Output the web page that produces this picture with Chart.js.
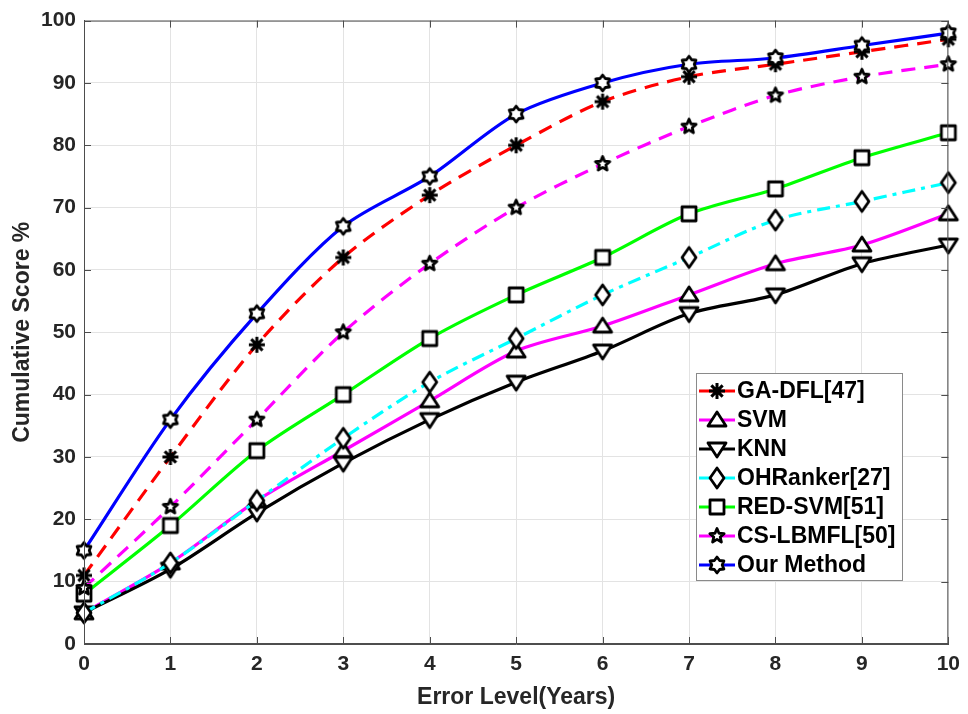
<!DOCTYPE html>
<html>
<head>
<meta charset="utf-8">
<script src="https://cdn.jsdelivr.net/npm/chart.js@4.4.1/dist/chart.umd.min.js"></script>
<style>
  html, body { margin: 0; padding: 0; background: #fff; }
</style>
</head>
<body>
<canvas id="scoreChart" width="968" height="714"></canvas>
<script>
// error levels (x) and cumulative scores (%) per method
const errorLevels = [0, 1, 2, 3, 4, 5, 6, 7, 8, 9, 10];
const gaDfl     = [11, 30, 48, 62, 72, 80, 87, 91, 93, 95, 97];
const svm       = [5, 13, 23, 31, 39, 47, 51, 56, 61, 64, 69];
const knn       = [5, 12, 21, 29, 36, 42, 47, 53, 56, 61, 64];
const ohRanker  = [5, 13, 23, 33, 42, 49, 56, 62, 68, 71, 74];
const redSvm    = [8, 19, 31, 40, 49, 56, 62, 69, 73, 78, 82];
const csLbmfl   = [9, 22, 36, 50, 61, 70, 77, 83, 88, 91, 93];
const ourMethod = [15, 36, 53, 67, 75, 85, 90, 93, 94, 96, 98];
const methodNames = ['GA-DFL[47]', 'SVM', 'KNN', 'OHRanker[27]', 'RED-SVM[51]', 'CS-LBMFL[50]', 'Our Method'];

const FONT = "'Liberation Sans', Arial, sans-serif";
const TEXT = '#262626';
const AXIS = '#4d4d4d';

function starPath(g, n, outer, inner) {
    for (let i = 0; i < n * 2; i++) {
        const r = i % 2 === 0 ? outer : inner;
        const a = -Math.PI / 2 + i * Math.PI / n;
        const px = r * Math.cos(a), py = r * Math.sin(a);
        if (i === 0) g.moveTo(px, py); else g.lineTo(px, py);
    }
}

function makeMarker(kind) {
    const c = document.createElement('canvas');
    c.width = 28; c.height = 28;
    const g = c.getContext('2d');
    g.translate(14, 14);
    g.lineWidth = 2.8;
    g.strokeStyle = '#000';
    g.fillStyle = '#fff';
    g.lineJoin = 'round';
    g.beginPath();
    if (kind === 'asterisk') {
        for (let k = 0; k < 4; k++) {
            const t = k * Math.PI / 4;
            g.moveTo(-8 * Math.cos(t), -8 * Math.sin(t));
            g.lineTo(8 * Math.cos(t), 8 * Math.sin(t));
        }
        g.lineWidth = 3;
        g.stroke();
        return c;
    }
    if (kind === 'triUp') { g.moveTo(0, -8); g.lineTo(9, 6); g.lineTo(-9, 6); }
    if (kind === 'triDown') { g.moveTo(0, 8); g.lineTo(9, -6); g.lineTo(-9, -6); }
    if (kind === 'diamond') { g.moveTo(0, -10); g.lineTo(7, 0); g.lineTo(0, 10); g.lineTo(-7, 0); }
    if (kind === 'square') { g.rect(-7, -7, 14, 14); }
    if (kind === 'pentagram') { starPath(g, 5, 7.5, 3.4); }
    if (kind === 'hexagram') { starPath(g, 6, 8, 5.2); }
    g.closePath();
    g.fill();
    g.stroke();
    return c;
}

function toPoints(arr) {
    return arr.map((v, i) => ({ x: errorLevels[i], y: v }));
}

function series(label, values, color, dash, marker, order) {
    return {
        label: label,
        data: toPoints(values),
        borderColor: color,
        backgroundColor: color,
        borderWidth: 3.2,
        borderDash: dash,
        tension: 0.3,
        pointStyle: makeMarker(marker),
        pointRadius: 6,
        clip: false,
        order: order
    };
}

const datasets = [
    series(methodNames[0], gaDfl, '#ff0000', [14, 9], 'asterisk', 6),
    series(methodNames[1], svm, '#ff00ff', [], 'triUp', 5),
    series(methodNames[2], knn, '#000000', [], 'triDown', 4),
    series(methodNames[3], ohRanker, '#00ffff', [13, 6, 4, 6], 'diamond', 3),
    series(methodNames[4], redSvm, '#00ff00', [], 'square', 2),
    series(methodNames[5], csLbmfl, '#ff00ff', [14, 9], 'pentagram', 1),
    series(methodNames[6], ourMethod, '#0000ff', [], 'hexagram', 0)
];

// box, inward ticks and the legend drawn like the MATLAB figure
const matlabFrame = {
    id: 'matlabFrame',
    afterDatasetsDraw(chart) {
        const ctx = chart.ctx;
        const a = chart.chartArea;
        const xs = chart.scales.x, ys = chart.scales.y;
        ctx.save();
        ctx.strokeStyle = AXIS;
        ctx.lineWidth = 1;
        ctx.strokeRect(a.left + 0.5, a.top + 0.5, a.right - a.left - 1, a.bottom - a.top - 1);
        ctx.beginPath();
        xs.ticks.forEach(t => {
            const px = Math.round(xs.getPixelForValue(t.value)) + 0.5;
            ctx.moveTo(px, a.bottom); ctx.lineTo(px, a.bottom - 7);
            ctx.moveTo(px, a.top); ctx.lineTo(px, a.top + 7);
        });
        ys.ticks.forEach(t => {
            const py = Math.round(ys.getPixelForValue(t.value)) + 0.5;
            ctx.moveTo(a.left, py); ctx.lineTo(a.left + 7, py);
            ctx.moveTo(a.right, py); ctx.lineTo(a.right - 7, py);
        });
        ctx.stroke();

        // legend
        const bx = 696, by = 373, bw = 206, bh = 207;
        ctx.fillStyle = '#fff';
        ctx.fillRect(bx, by, bw, bh);
        ctx.strokeStyle = '#8a8a8a';
        ctx.strokeRect(bx + 0.5, by + 0.5, bw, bh);
        ctx.font = 'bold 23px ' + FONT;
        ctx.textBaseline = 'middle';
        ctx.textAlign = 'left';
        chart.data.datasets.forEach((ds, i) => {
            const ry = by + 18 + i * 29;
            ctx.beginPath();
            ctx.strokeStyle = ds.borderColor;
            ctx.lineWidth = 3;
            ctx.setLineDash([]);
            ctx.moveTo(bx + 3, ry);
            ctx.lineTo(bx + 39, ry);
            ctx.stroke();
            const m = ds.pointStyle;
            ctx.drawImage(m, bx + 21 - m.width / 2, ry - m.height / 2);
            ctx.fillStyle = '#000';
            ctx.fillText(ds.label, bx + 41, ry + 1);
        });
        ctx.restore();
    }
};

const ctx = document.getElementById('scoreChart').getContext('2d');
new Chart(ctx, {
    type: 'line',
    data: { datasets: datasets },
    options: {
        responsive: false,
        animation: false,
        layout: { padding: { top: 17, right: 19, left: 0, bottom: 0 } },
        plugins: {
            legend: { display: false },
            tooltip: { enabled: false }
        },
        scales: {
            x: {
                type: 'linear',
                min: 0,
                max: 10,
                ticks: {
                    stepSize: 1,
                    color: TEXT,
                    padding: 8,
                    font: { family: FONT, size: 21, weight: 'bold' }
                },
                grid: { color: '#e3e3e3', drawTicks: false },
                border: { color: AXIS },
                title: {
                    display: true,
                    text: 'Error Level(Years)',
                    color: TEXT,
                    font: { family: FONT, size: 23, weight: 'bold' },
                    padding: { top: 0, bottom: 3 }
                },
                afterFit: s => { s.height = 70; }
            },
            y: {
                min: 0,
                max: 100,
                ticks: {
                    stepSize: 10,
                    color: TEXT,
                    padding: 8,
                    font: { family: FONT, size: 21, weight: 'bold' }
                },
                grid: { color: '#e3e3e3', drawTicks: false },
                border: { color: AXIS },
                title: {
                    display: true,
                    text: 'Cumulative Score %',
                    color: TEXT,
                    font: { family: FONT, size: 23, weight: 'bold' },
                    padding: { top: 9, bottom: 0 }
                },
                afterFit: s => { s.width = 84; }
            }
        }
    },
    plugins: [matlabFrame]
});
</script>
</body>
</html>
